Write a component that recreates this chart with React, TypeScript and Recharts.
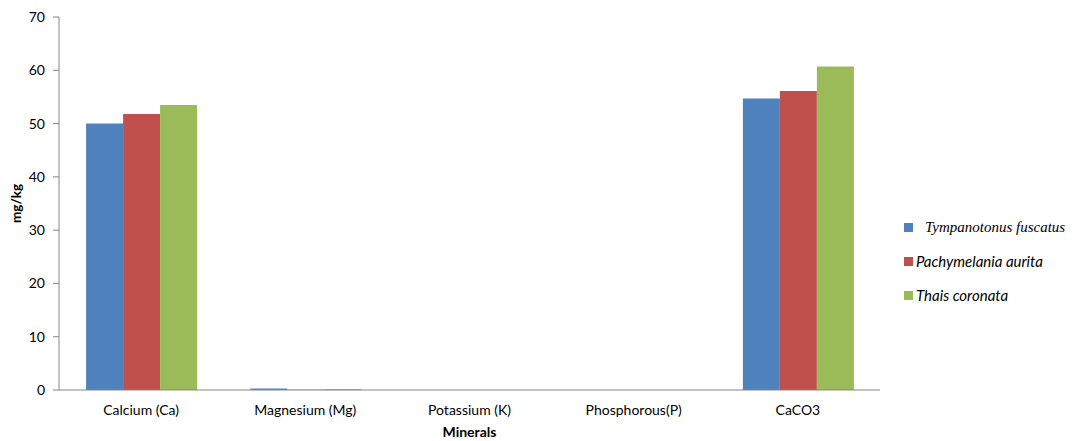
import React from 'react';
import { BarChart, Bar, XAxis, YAxis } from 'recharts';

// Mineral composition (mg/kg) of three gastropod shells
const minerals = ['Calcium (Ca)', 'Magnesium (Mg)', 'Potassium (K)', 'Phosphorous(P)', 'CaCO3'];
const tympanotonus = [50.0, 0.28, 0.02, 0.01, 54.7];
const pachymelania = [51.8, 0.05, 0.02, 0.01, 56.1];
const thais = [53.5, 0.18, 0.02, 0.01, 60.7];
const yTicks = [0, 10, 20, 30, 40, 50, 60, 70];
const boundaryTicks = [0, 1, 2, 3, 4, 5];

const series = [
  { key: 'tympanotonus', name: 'Tympanotonus fuscatus', color: '#4F81BD', font: '"Liberation Serif", "Times New Roman", serif', size: 15, gap: 12 },
  { key: 'pachymelania', name: 'Pachymelania aurita', color: '#C0504D', font: 'Lato, "Open Sans", sans-serif', size: 15, gap: 3 },
  { key: 'thais', name: 'Thais coronata', color: '#9BBB59', font: 'Lato, "Open Sans", sans-serif', size: 15, gap: 3 },
];

const data = minerals.map((m, i) => ({
  mineral: m,
  idx: i + 0.5,
  tympanotonus: tympanotonus[i],
  pachymelania: pachymelania[i],
  thais: thais[i],
}));

const axisColor = '#868686';
const tickFont = { fontFamily: 'Lato, "Open Sans", sans-serif', fontSize: 14, fill: '#000' };

export default function App() {
  return (
    <div style={{ position: 'absolute', left: 0, top: 0, width: 1081, height: 441, background: '#fff' }}>
      <BarChart
        width={1081}
        height={441}
        data={data}
        margin={{ top: 17, right: 201, left: 0, bottom: 0 }}
        barCategoryGap="16.5%"
        barGap={0}
      >
        {/* axis line with tick marks between categories */}
        <XAxis
          xAxisId={0}
          type="number"
          dataKey="idx"
          domain={[0, 5]}
          ticks={boundaryTicks}
          height={1}
          axisLine={{ stroke: axisColor }}
          tick={false}
          tickLine={{ stroke: axisColor }}
          tickSize={6}
        />
        <XAxis
          xAxisId={1}
          dataKey="mineral"
          height={50}
          axisLine={false}
          tickLine={false}
          tick={tickFont}
          tickMargin={8}
          interval={0}
          label={{
            value: 'Minerals',
            position: 'insideBottom',
            offset: 4,
            style: { fontFamily: 'Lato, "Open Sans", sans-serif', fontSize: 14, fontWeight: 700, fill: '#000' },
          }}
        />
        <YAxis
          width={59}
          domain={[0, 70]}
          ticks={yTicks}
          interval={0}
          axisLine={{ stroke: axisColor }}
          tickLine={{ stroke: axisColor }}
          tickSize={6}
          tickMargin={8}
          tick={tickFont}
          label={{
            value: 'mg/kg',
            angle: -90,
            position: 'insideLeft',
            offset: 16,
            style: { fontFamily: 'Lato, "Open Sans", sans-serif', fontSize: 13.5, fontWeight: 700, fill: '#000', textAnchor: 'middle' },
          }}
        />
        {series.map((s) => (
          <Bar key={s.key} xAxisId={1} dataKey={s.key} name={s.name} fill={s.color} isAnimationActive={false} />
        ))}
      </BarChart>
      <div style={{ position: 'absolute', left: 904, top: 210 }}>
        {series.map((s) => (
          <div key={s.key} style={{ display: 'flex', alignItems: 'center', height: 34 }}>
            <span style={{ width: 9, height: 9, background: s.color, display: 'inline-block' }} />
            <span
              style={{
                marginLeft: s.gap,
                fontFamily: s.font,
                fontStyle: 'italic',
                fontSize: s.size,
                color: '#000',
                whiteSpace: 'nowrap',
              }}
            >
              {s.name}
            </span>
          </div>
        ))}
      </div>
    </div>
  );
}
